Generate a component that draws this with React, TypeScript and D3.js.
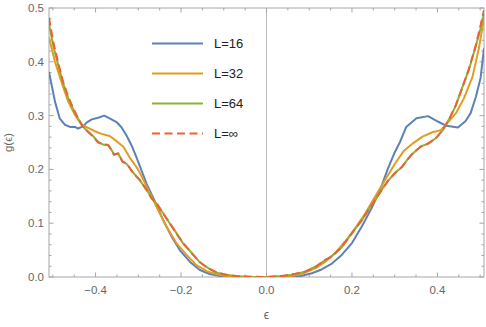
import React, { useEffect, useRef } from "react";
import * as d3 from "d3";

// values: [epsilon, g(epsilon)]
const l16: [number, number][] = [
  [-0.509, 0.381], [-0.495, 0.326], [-0.484, 0.295], [-0.472, 0.283], [-0.46, 0.279],
  [-0.448, 0.279], [-0.441, 0.276], [-0.429, 0.28], [-0.421, 0.287], [-0.409, 0.293],
  [-0.394, 0.296], [-0.38, 0.3], [-0.367, 0.295], [-0.351, 0.288], [-0.339, 0.278],
  [-0.327, 0.262], [-0.316, 0.245], [-0.304, 0.222], [-0.281, 0.174], [-0.261, 0.14],
  [-0.242, 0.106], [-0.222, 0.075], [-0.203, 0.05], [-0.179, 0.028], [-0.156, 0.013],
  [-0.133, 0.0056], [-0.109, 0.002], [-0.08, 0.0005], [0, 0], [0.08, 0.002],
  [0.106, 0.007], [0.129, 0.014], [0.153, 0.025], [0.176, 0.041], [0.2, 0.063],
  [0.223, 0.094], [0.246, 0.128], [0.266, 0.162], [0.283, 0.199], [0.299, 0.23],
  [0.313, 0.252], [0.327, 0.279], [0.351, 0.295], [0.378, 0.299], [0.401, 0.289],
  [0.421, 0.281], [0.448, 0.278], [0.466, 0.29], [0.478, 0.305], [0.49, 0.335],
  [0.501, 0.37], [0.509, 0.425],
];

const l32: [number, number][] = [
  [-0.509, 0.445], [-0.495, 0.4], [-0.48, 0.363], [-0.464, 0.326], [-0.448, 0.301],
  [-0.433, 0.283], [-0.417, 0.277], [-0.402, 0.271], [-0.386, 0.266], [-0.367, 0.262],
  [-0.35, 0.252], [-0.335, 0.242], [-0.32, 0.222], [-0.304, 0.204], [-0.296, 0.193],
  [-0.273, 0.156], [-0.254, 0.125], [-0.234, 0.094], [-0.211, 0.063], [-0.187, 0.041],
  [-0.164, 0.022], [-0.14, 0.011], [-0.117, 0.005], [-0.094, 0.002], [-0.06, 0.0005],
  [0, 0], [0.04, 0.0005], [0.067, 0.003], [0.09, 0.008], [0.114, 0.016],
  [0.137, 0.028], [0.16, 0.044], [0.184, 0.066], [0.207, 0.09], [0.231, 0.118],
  [0.254, 0.149], [0.277, 0.18], [0.301, 0.211], [0.321, 0.234], [0.342, 0.248],
  [0.365, 0.261], [0.388, 0.269], [0.408, 0.273], [0.423, 0.286], [0.443, 0.304],
  [0.462, 0.332], [0.482, 0.372], [0.497, 0.425], [0.509, 0.481],
];

const l64: [number, number][] = [
  [-0.509, 0.47], [-0.499, 0.43], [-0.487, 0.392], [-0.476, 0.36], [-0.464, 0.333],
  [-0.452, 0.311], [-0.441, 0.294], [-0.429, 0.279], [-0.417, 0.269], [-0.406, 0.262],
  [-0.394, 0.251], [-0.382, 0.246], [-0.371, 0.246], [-0.362, 0.235], [-0.357, 0.228],
  [-0.347, 0.229], [-0.337, 0.215], [-0.327, 0.21], [-0.312, 0.194], [-0.296, 0.179],
  [-0.281, 0.163], [-0.269, 0.147], [-0.257, 0.136], [-0.242, 0.119], [-0.226, 0.099],
  [-0.211, 0.082], [-0.195, 0.062], [-0.175, 0.045], [-0.156, 0.027], [-0.137, 0.017],
  [-0.117, 0.008], [-0.094, 0.004], [-0.07, 0.0015], [-0.04, 0.0005], [0, 0],
  [0.036, 0.0015], [0.067, 0.005], [0.09, 0.01], [0.114, 0.019], [0.137, 0.031],
  [0.153, 0.039], [0.176, 0.055], [0.2, 0.082], [0.223, 0.105], [0.239, 0.126],
  [0.254, 0.142], [0.27, 0.163], [0.285, 0.179], [0.301, 0.194], [0.317, 0.204],
  [0.332, 0.221], [0.342, 0.229], [0.361, 0.243], [0.377, 0.247], [0.396, 0.258],
  [0.412, 0.272], [0.427, 0.293], [0.443, 0.318], [0.458, 0.352], [0.474, 0.386],
  [0.49, 0.43], [0.501, 0.462], [0.509, 0.49],
];

const lInf: [number, number][] = [
  [-0.509, 0.482], [-0.499, 0.437], [-0.487, 0.397], [-0.476, 0.363], [-0.464, 0.335],
  [-0.452, 0.313], [-0.441, 0.295], [-0.429, 0.279], [-0.417, 0.27], [-0.406, 0.261],
  [-0.394, 0.25], [-0.382, 0.247], [-0.371, 0.245], [-0.362, 0.236], [-0.357, 0.227],
  [-0.347, 0.23], [-0.337, 0.214], [-0.327, 0.211], [-0.312, 0.193], [-0.296, 0.18],
  [-0.281, 0.162], [-0.269, 0.146], [-0.257, 0.137], [-0.242, 0.118], [-0.226, 0.1],
  [-0.211, 0.081], [-0.195, 0.063], [-0.175, 0.044], [-0.156, 0.028], [-0.137, 0.016],
  [-0.117, 0.009], [-0.094, 0.004], [-0.07, 0.002], [-0.04, 0.0005], [0, 0],
  [0.036, 0.002], [0.067, 0.006], [0.09, 0.01], [0.114, 0.018], [0.137, 0.032],
  [0.153, 0.038], [0.176, 0.056], [0.2, 0.081], [0.223, 0.106], [0.239, 0.125],
  [0.254, 0.143], [0.27, 0.162], [0.285, 0.18], [0.301, 0.193], [0.317, 0.205],
  [0.332, 0.22], [0.342, 0.23], [0.361, 0.242], [0.377, 0.248], [0.396, 0.257],
  [0.412, 0.273], [0.427, 0.292], [0.443, 0.32], [0.458, 0.351], [0.474, 0.388],
  [0.49, 0.431], [0.501, 0.468], [0.509, 0.496],
];

const seriesNames = ["L=16", "L=32", "L=64", "L=\u221e"];
const seriesData = [l16, l32, l64, lInf];
const seriesColors = ["#5e81b5", "#e19c24", "#8fb032", "#eb6235"];

const xTicks = [-0.4, -0.2, 0, 0.2, 0.4];
const yTicks = [0, 0.1, 0.2, 0.3, 0.4, 0.5];

const W = 486;
const H = 327;
const margin = { top: 8, right: 2, bottom: 50, left: 49 };

const fmt = (v: number) => {
  const s = Math.abs(v).toFixed(1);
  return v < -1e-9 ? "\u2212" + s : s;
};

export default function App() {
  const ref = useRef<SVGSVGElement>(null);

  useEffect(() => {
    const svg = d3.select(ref.current);
    svg.selectAll("*").remove();

    const x0 = margin.left;
    const x1 = W - margin.right;
    const y0 = H - margin.bottom;
    const y1 = margin.top;

    const x = d3.scaleLinear().domain([-0.509, 0.509]).range([x0, x1]);
    const y = d3.scaleLinear().domain([0, 0.5]).range([y0, y1]);

    const frameCol = "#a6a6a6";
    const labelCol = "#666666";
    const font = "'Liberation Sans', Arial, sans-serif";

    const clipId = "plotclip";
    svg
      .append("clipPath")
      .attr("id", clipId)
      .append("rect")
      .attr("x", x0)
      .attr("y", y1 - 2)
      .attr("width", x1 - x0)
      .attr("height", y0 - y1 + 2);

    // vertical axis at epsilon = 0
    svg
      .append("line")
      .attr("x1", x(0))
      .attr("x2", x(0))
      .attr("y1", y0)
      .attr("y2", y1)
      .attr("stroke", "#bdbdbd")
      .attr("stroke-width", 1);

    // frame
    svg
      .append("rect")
      .attr("x", x0)
      .attr("y", y1)
      .attr("width", x1 - x0)
      .attr("height", y0 - y1)
      .attr("fill", "none")
      .attr("stroke", frameCol)
      .attr("stroke-width", 1);

    // ticks on all four sides
    const xMinor = d3.range(-10, 11).map((i) => i * 0.05);
    const yMinor = d3.range(0, 26).map((i) => i * 0.02);
    const isMajor = (v: number, step: number) =>
      Math.abs(v / step - Math.round(v / step)) < 1e-6;

    const tg = svg.append("g").attr("stroke", frameCol).attr("stroke-width", 1);
    xMinor.forEach((v) => {
      const len = isMajor(v, 0.2) ? 4.5 : 2.5;
      tg.append("line")
        .attr("x1", x(v)).attr("x2", x(v))
        .attr("y1", y0).attr("y2", y0 - len);
      tg.append("line")
        .attr("x1", x(v)).attr("x2", x(v))
        .attr("y1", y1).attr("y2", y1 + len);
    });
    yMinor.forEach((v) => {
      const len = isMajor(v, 0.1) ? 4.5 : 2.5;
      tg.append("line")
        .attr("x1", x0).attr("x2", x0 + len)
        .attr("y1", y(v)).attr("y2", y(v));
      tg.append("line")
        .attr("x1", x1).attr("x2", x1 - len)
        .attr("y1", y(v)).attr("y2", y(v));
    });

    // tick labels
    svg
      .append("g")
      .selectAll("text")
      .data(xTicks)
      .enter()
      .append("text")
      .attr("x", (d) => x(d))
      .attr("y", y0 + 17)
      .attr("text-anchor", "middle")
      .attr("font-family", font)
      .attr("font-size", 11.5)
      .attr("fill", labelCol)
      .text((d) => fmt(d));

    svg
      .append("g")
      .selectAll("text")
      .data(yTicks)
      .enter()
      .append("text")
      .attr("x", x0 - 5)
      .attr("y", (d) => y(d) + 4)
      .attr("text-anchor", "end")
      .attr("font-family", font)
      .attr("font-size", 11.5)
      .attr("fill", labelCol)
      .text((d) => fmt(d));

    // axis labels
    svg
      .append("text")
      .attr("transform", `translate(12,${(y0 + y1) / 2}) rotate(-90)`)
      .attr("text-anchor", "middle")
      .attr("font-family", font)
      .attr("font-size", 11.5)
      .attr("fill", labelCol)
      .text("g(\u03f5)");

    svg
      .append("text")
      .attr("x", x(0))
      .attr("y", 319)
      .attr("text-anchor", "middle")
      .attr("font-family", font)
      .attr("font-size", 12)
      .attr("fill", labelCol)
      .text("\u03f5");

    // curves
    const line = d3
      .line<[number, number]>()
      .x((d) => x(d[0]))
      .y((d) => y(d[1]));

    const cg = svg.append("g").attr("clip-path", `url(#${clipId})`);
    seriesData.forEach((data, i) => {
      cg.append("path")
        .datum(data)
        .attr("d", line)
        .attr("fill", "none")
        .attr("stroke", seriesColors[i])
        .attr("stroke-width", 2)
        .attr("stroke-linejoin", "round")
        .attr("stroke-dasharray", i === 3 ? "8,4" : null);
    });

    // legend
    const lg = svg.append("g");
    seriesNames.forEach((name, i) => {
      const ly = 43.5 + i * 30;
      lg.append("line")
        .attr("x1", 152)
        .attr("x2", 203)
        .attr("y1", ly)
        .attr("y2", ly)
        .attr("stroke", seriesColors[i])
        .attr("stroke-width", 2)
        .attr("stroke-dasharray", i === 3 ? "8,4.5" : null);
      lg.append("text")
        .attr("x", 214)
        .attr("y", ly + 4.5)
        .attr("font-family", font)
        .attr("font-size", 13)
        .attr("fill", "#222")
        .text(name);
    });
  }, []);

  return (
    <svg
      ref={ref}
      width={W}
      height={H}
      style={{ position: "absolute", left: 0, top: 0, background: "#fff" }}
    />
  );
}
